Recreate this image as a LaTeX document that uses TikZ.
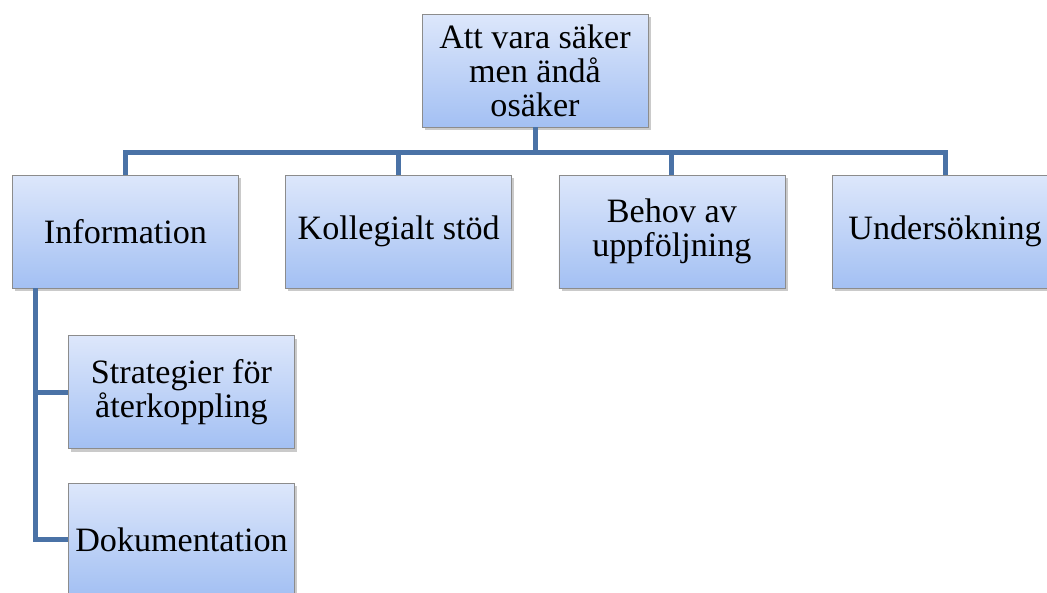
\documentclass[tikz,border=0pt]{standalone}
\usepackage{fontspec}
\setmainfont{Liberation Serif}
\usepackage{xcolor}
\definecolor{boxtop}{HTML}{DDE7FB}
\definecolor{boxbottom}{HTML}{A3C0F3}
\definecolor{boxline}{HTML}{8C8C8C}
\definecolor{linkblue}{HTML}{4A72A6}
\usepackage{tikz}
\usetikzlibrary{positioning,shadows}

\begin{document}
\begin{tikzpicture}[x=0.75pt, y=0.75pt,
      topic/.style={rectangle, draw=boxline, thin, top color=boxtop,
                    bottom color=boxbottom, minimum width=169.5pt,
                    minimum height=84.75pt, align=center, inner sep=2pt,
                    font=\fontsize{25.6}{25.5}\selectfont,
                    drop shadow={shadow xshift=2pt, shadow yshift=-2.5pt,
                                 opacity=0.35, fill=black!60}},
      link/.style={draw=linkblue, line width=3.75pt},
    ]
    \useasboundingbox (0,0) rectangle (1047,-593);
    \node[topic] (root) at (535,-70.5) {Att vara säker\\men ändå\\osäker};
    \node[topic] (info) at (125.5,-231.5) {Information};
    \node[topic, right=35pt of info] (kol) {Kollegialt stöd};
    \node[topic, right=35pt of kol] (beh) {Behov av\\uppföljning};
    \node[topic, right=35pt of beh] (und) {Undersökning};
    \node[topic] (strat) at (181.5,-392) {Strategier för\\återkoppling};
    \node[topic, below=25.5pt of strat] (dok) {Dokumentation};
    \coordinate (bus) at (535,-152);
    \draw[link] (root.south) -- (bus);
    \draw[link] (info.north) |- (bus) -| (und.north);
    \draw[link] (kol.north) -- (kol.north |- bus);
    \draw[link] (beh.north) -- (beh.north |- bus);
    \draw[link] ([xshift=17.25pt]info.south west) |- (strat.west);
    \draw[link] ([xshift=17.25pt]info.south west) |- (dok.west);
  \end{tikzpicture}
\end{document}
